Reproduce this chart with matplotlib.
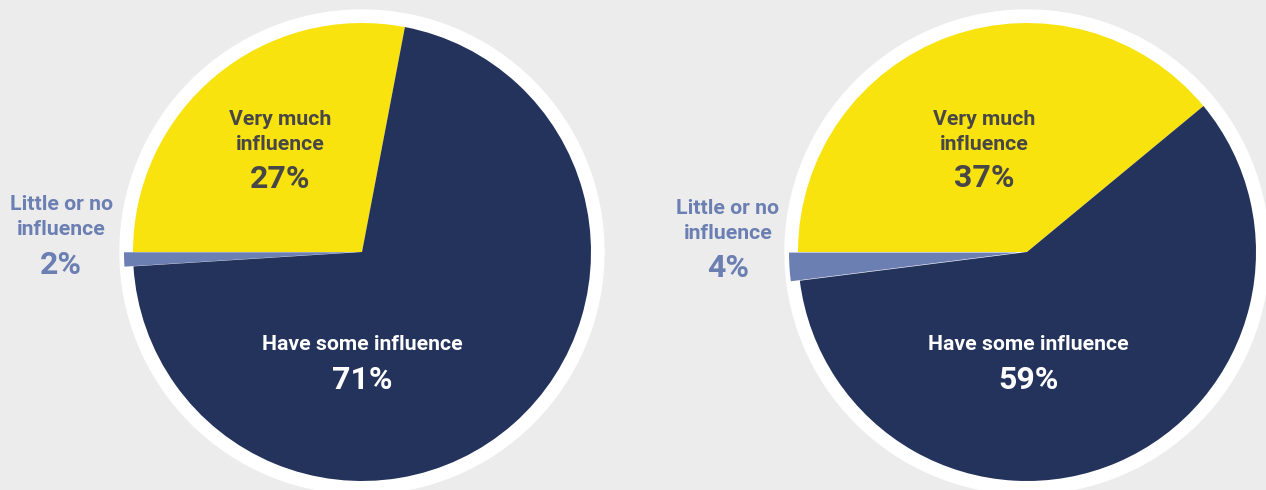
import matplotlib.pyplot as plt

# slice sizes as they are drawn in the picture (labels are the printed ones)
categories = ["Very much influence", "Little or no influence", "Have some influence"]
left_values = [28, 1, 71]
right_values = [39, 2, 59]
left_labels = ["27%", "2%", "71%"]
right_labels = ["37%", "4%", "59%"]

colors = ["#f9e30f", "#6b7fb3", "#24335c"]
text_colors = ["#474747", "#6b7fb3", "#ffffff"]
bg = "#ececec"

W, H = 1266, 490
plt.rcParams['font.family'] = ['Roboto', 'DejaVu Sans']

fig = plt.figure(figsize=(W / 100, H / 100), dpi=100)
fig.patch.set_facecolor(bg)
ax = fig.add_axes([0, 0, 1, 1])
ax.set_facecolor(bg)


def Y(y):
   # picture rows are counted from the top
   return H - y


def draw_pie(vals, labels, cx, cy, start, text_pos):
   ax.add_patch(plt.Circle((cx, Y(cy)), 242, color="white", zorder=0))
   ax.pie(vals, colors=colors, center=(cx, Y(cy)), radius=229,
          startangle=start, counterclock=True, explode=[0, 9, 0],
          wedgeprops=dict(linewidth=0))
   names = ["Very much\ninfluence", "Little or no\ninfluence", "Have some influence"]
   for i in range(3):
      tx, ty, py = text_pos[i]
      ax.text(tx, Y(ty), names[i], ha="center", va="center", fontsize=15.3,
              fontweight="bold", color=text_colors[i], linespacing=1.45)
      ax.text(tx, Y(py), labels[i], ha="center", va="center", fontsize=23,
              fontweight="bold", color=text_colors[i])


draw_pie(left_values, left_labels, 362, 252, 79.2,
         [(280, 132, 179), (61, 217, 265), (362, 345, 380)])
draw_pie(right_values, right_labels, 1027, 252, 39.6,
         [(984, 132, 178), (728, 221, 268), (1028, 345, 380)])

ax.set_xlim(0, W)
ax.set_ylim(0, H)
ax.set_aspect("auto")
ax.axis("off")

fig.savefig("out.png", dpi=100, facecolor=bg)
